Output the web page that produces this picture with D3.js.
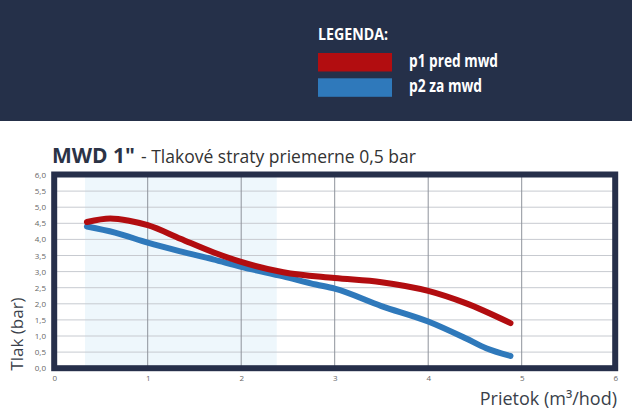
<!DOCTYPE html>
<html><head><meta charset="utf-8">
<script src="https://cdn.jsdelivr.net/npm/d3@7"></script>
<style>body{margin:0;background:#fff}svg{display:block}</style>
</head><body>
<script>
const redX = [0.35, 0.6, 0.8, 1.0, 1.35, 1.7, 2.0, 2.45, 3.0, 3.5, 4.0, 4.4, 4.88];
const redY = [4.54, 4.65, 4.58, 4.44, 4.02, 3.60, 3.30, 2.98, 2.80, 2.67, 2.40, 2.02, 1.40];
const blueX = [0.35, 0.65, 1.0, 1.35, 1.7, 2.0, 2.45, 2.8, 3.0, 3.5, 4.0, 4.4, 4.62, 4.88];
const blueY = [4.40, 4.21, 3.90, 3.63, 3.38, 3.15, 2.85, 2.60, 2.47, 1.93, 1.45, 0.93, 0.62, 0.38];
const xTicks = [0, 1, 2, 3, 4, 5, 6];
const yTicks = [0, 0.5, 1, 1.5, 2, 2.5, 3, 3.5, 4, 4.5, 5, 5.5, 6];
const band = [0.33, 2.38];
const legendLabels = ["p1 pred mwd", "p2 za mwd"];

const W = 632, H = 418;
const svg = d3.select("body").append("svg").attr("width", W).attr("height", H);
const x = d3.scaleLinear().domain([0, 6]).range([54.2, 615.2]);
const y = d3.scaleLinear().domain([0, 6]).range([368.2, 175]);

// header
svg.append("rect").attr("x", 0).attr("y", 0).attr("width", W).attr("height", 121).attr("fill", "#253049");
const lf = "'Open Sans', sans-serif";
svg.append("text").attr("x", 318).attr("y", 40).attr("fill", "#fff").attr("font-family", lf)
  .attr("font-weight", 700).attr("font-size", 16).attr("textLength", 70).attr("lengthAdjust", "spacingAndGlyphs").text("LEGENDA:");
const legColors = ["#b20d10", "#2f79bb"];
const legLens = [89, 73];
legendLabels.forEach((t, i) => {
  svg.append("rect").attr("x", 318).attr("y", 53 + i * 25.3).attr("width", 74).attr("height", 18.5).attr("fill", legColors[i]);
  svg.append("text").attr("x", 409).attr("y", 67 + i * 25).attr("fill", "#fff").attr("font-family", lf)
    .attr("font-weight", 700).attr("font-size", 17).attr("textLength", legLens[i]).attr("lengthAdjust", "spacingAndGlyphs").text(t);
});

// title
const title = svg.append("text").attr("x", 52).attr("y", 163).attr("font-family", lf).attr("fill", "#2b3346");
title.append("tspan").attr("font-weight", 700).attr("font-size", 21).text('MWD 1"');
title.append("tspan").attr("font-size", 17.5).attr("fill", "#333").attr("dx", 6).text("- Tlakové straty priemerne 0,5 bar");

// band
svg.append("rect").attr("x", x(band[0])).attr("y", y(6)).attr("width", x(band[1]) - x(band[0]))
  .attr("height", y(0) - y(6)).attr("fill", "#eef7fc");

// gridlines
svg.append("g").selectAll("line").data(yTicks.filter(v => v > 0 && v < 6)).join("line")
  .attr("x1", x(0)).attr("x2", x(6)).attr("y1", d => y(d)).attr("y2", d => y(d))
  .attr("stroke", "#c7cad0").attr("stroke-width", 1);
svg.append("g").selectAll("line").data(xTicks.filter(v => v > 0 && v < 6)).join("line")
  .attr("x1", d => x(d)).attr("x2", d => x(d)).attr("y1", y(6)).attr("y2", y(0))
  .attr("stroke", "#8e939c").attr("stroke-width", 1);

// frame
svg.append("rect").attr("x", x(0)).attr("y", y(6) - 0.5).attr("width", x(6) - x(0)).attr("height", y(0) - y(6) + 0.5)
  .attr("fill", "none").attr("stroke", "#262f4a").attr("stroke-width", 6);

// axes tick labels
const yAxis = d3.axisLeft(y).tickValues(yTicks).tickSize(0).tickPadding(0)
  .tickFormat(d => d3.format(".1f")(d).replace(".", ","));
const gy = svg.append("g").attr("transform", "translate(46,0)").call(yAxis);
gy.select(".domain").remove();
gy.selectAll("text").attr("font-family", lf).attr("font-size", 8).attr("fill", "#666");

const xAxis = d3.axisBottom(x).tickValues(xTicks).tickSize(0).tickPadding(0).tickFormat(d3.format("d"));
const gx = svg.append("g").attr("transform", "translate(0,375.5)").call(xAxis);
gx.select(".domain").remove();
gx.selectAll("text").attr("font-family", lf).attr("font-size", 8).attr("fill", "#666");

// curves
const line = d3.line().x(d => x(d[0])).y(d => y(d[1])).curve(d3.curveMonotoneX);
const series = [
  { xs: redX, ys: redY, c: "#b20d10" },
  { xs: blueX, ys: blueY, c: "#2f79bb" }
];
series.slice().reverse().forEach(s => {
  svg.append("path").datum(s.xs.map((v, i) => [v, s.ys[i]])).attr("d", line)
    .attr("fill", "none").attr("stroke", s.c).attr("stroke-width", 6)
    .attr("stroke-linecap", "round").attr("stroke-linejoin", "round");
});

// axis titles
svg.append("text").attr("transform", "translate(23,334) rotate(-90)").attr("text-anchor", "middle")
  .attr("font-family", lf).attr("font-size", 17).attr("fill", "#3a3f4a").text("Tlak (bar)");
svg.append("text").attr("x", 617).attr("y", 404.5).attr("text-anchor", "end")
  .attr("font-family", lf).attr("font-size", 18).attr("fill", "#3a3f4a").text("Prietok (m³/hod)");
</script>
</body></html>
